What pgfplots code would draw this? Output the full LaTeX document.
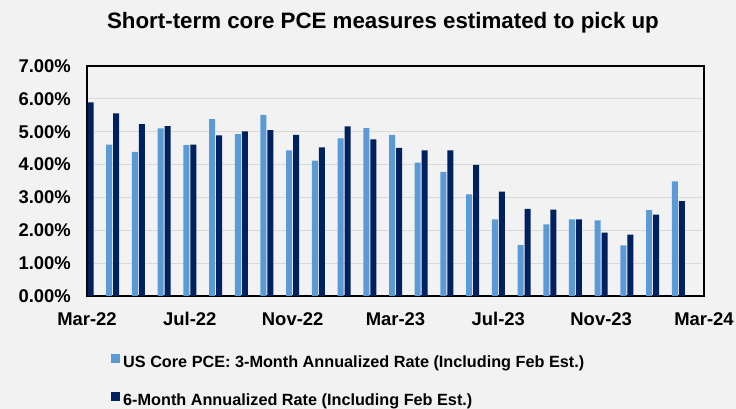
\documentclass[border=0pt]{standalone}
\usepackage{fontspec}
\setmainfont{Liberation Sans}
\usepackage{pgfplots}
\pgfplotsset{compat=1.18}
\definecolor{bgc}{HTML}{F2F2F2}
\definecolor{lightb}{HTML}{5B9BD5}
\definecolor{darkb}{HTML}{002060}
\definecolor{gridc}{HTML}{D9D9D9}
\begin{document}
\begin{tikzpicture}
\fill[bgc] (0,0) rectangle (736bp,409bp);
\useasboundingbox (0,0) rectangle (736bp,409bp);
\node[anchor=base, font=\fontsize{22.4}{24}\selectfont\bfseries, inner sep=0pt] at (383bp,380.5bp) {Short-term core PCE measures estimated to pick up};
\begin{axis}[
  at={(87bp,113bp)}, anchor=south west,
  scale only axis, width=617bp, height=230bp,
  xmin=0, xmax=24, ymin=0, ymax=7,
  ybar, bar width=6bp,
  axis background/.style={fill=bgc},
  axis line style={black, line width=1.2bp},
  xtick={0,4,...,24},
  xticklabels={Mar-22,Jul-22,Nov-22,Mar-23,Jul-23,Nov-23,Mar-24},
  ytick={0,1,...,7},
  yticklabel={\pgfmathprintnumber[fixed,fixed zerofill,precision=2]{\tick}\%},
  /pgf/number format/assume math mode=true,
  major tick length=0pt,
  tick style={draw=none},
  ymajorgrids, grid style={gridc, line width=1bp},
  ticklabel style={font=\fontsize{18.5}{20}\selectfont\bfseries, inner sep=0pt},
  yticklabel style={anchor=east, xshift=-16bp},
  xticklabel style={anchor=north, yshift=-16bp},
  legend style={at={(axis description cs:0.0389,-0.252)}, anchor=north west,
    draw=none, fill=none, inner sep=0pt, row sep=21bp, column sep=3bp,
    font=\fontsize{16.3}{19}\selectfont\bfseries,
    nodes={inner sep=0pt, text height=12bp, text depth=4bp},
    cells={anchor=base west}},
  legend cell align=left,
  legend image code/.code={\fill[#1] (0bp,0bp) rectangle (9bp,9bp);},
]
\addplot[fill=lightb, draw=none, bar shift=-3.5bp] coordinates {
(1,4.61) (2,4.39) (3,5.10) (4,4.59) (5,5.38) (6,4.93) (7,5.51) (8,4.43) (9,4.12)
(10,4.80) (11,5.11) (12,4.90) (13,4.06) (14,3.78) (15,3.09) (16,2.33) (17,1.55)
(18,2.18) (19,2.33) (20,2.30) (21,1.54) (22,2.61) (23,3.49)};
\addlegendentry{US Core PCE: 3-Month Annualized Rate (Including Feb Est.)}
\addplot[fill=darkb, draw=none, bar shift=3.5bp] coordinates {
(0,5.89) (1,5.56) (2,5.23) (3,5.17) (4,4.61) (5,4.89) (6,5.01) (7,5.05) (8,4.90) (9,4.52)
(10,5.16) (11,4.77) (12,4.51) (13,4.43) (14,4.43) (15,3.99) (16,3.18) (17,2.65)
(18,2.63) (19,2.33) (20,1.93) (21,1.87) (22,2.48) (23,2.89)};
\addlegendentry{6-Month Annualized Rate (Including Feb Est.)}
\end{axis}
\end{tikzpicture}
\end{document}
